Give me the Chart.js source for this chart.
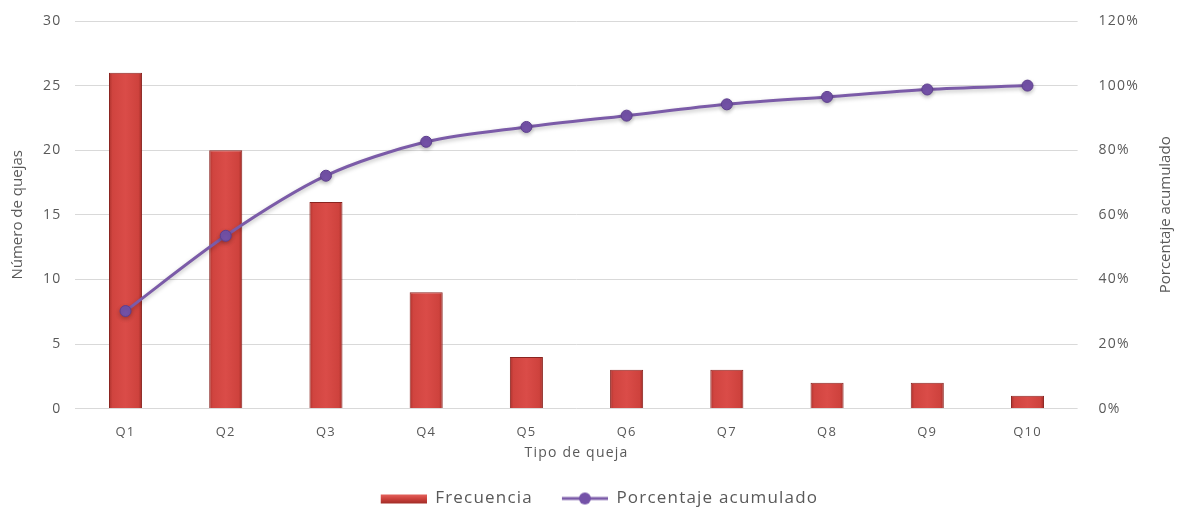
<!DOCTYPE html>
<html>
<head>
<meta charset="utf-8">
<script src="https://cdn.jsdelivr.net/npm/chart.js"></script>
<style>
  html, body { margin: 0; padding: 0; background: #fff; }
  #wrap { width: 1178px; height: 508px; }
</style>
</head>
<body>
<div id="wrap"><canvas id="myCanvas" width="1178" height="508"></canvas></div>
<script>
var tipos = ['Q1', 'Q2', 'Q3', 'Q4', 'Q5', 'Q6', 'Q7', 'Q8', 'Q9', 'Q10'];
var frecuencia = [26, 20, 16, 9, 4, 3, 3, 2, 2, 1];
var acumulado = [30.2, 53.5, 72.1, 82.6, 87.2, 90.7, 94.2, 96.5, 98.8, 100];

var gris = '#595959';
var fuente = "'Open Sans', 'Liberation Sans', sans-serif";
var espaciado = '1.2px';

// red bar with slightly darker edges, like a rounded cylinder
function rellenoBarra(ctx) {
  var chart = ctx.chart;
  var x = chart.scales.x;
  if (!x || ctx.dataIndex === undefined) return '#d64541';
  var cx = x.getPixelForValue(ctx.dataIndex);
  var w = 17;
  var g = chart.ctx.createLinearGradient(cx - w, 0, cx + w, 0);
  g.addColorStop(0, '#a8302b');
  g.addColorStop(0.12, '#d0443f');
  g.addColorStop(0.5, '#da4c48');
  g.addColorStop(0.88, '#ce423d');
  g.addColorStop(1, '#9c2a25');
  return g;
}

// legend icons, both 64 wide; the drawn part sits on the right
function iconoBarra() {
  var c = document.createElement('canvas');
  c.width = 64; c.height = 14;
  var k = c.getContext('2d');
  var g = k.createLinearGradient(0, 2, 0, 12);
  g.addColorStop(0, '#e86a64');
  g.addColorStop(0.5, '#d0433e');
  g.addColorStop(1, '#a02c27');
  k.fillStyle = g;
  k.fillRect(18, 3, 46, 9);
  return c;
}
function iconoLinea() {
  var c = document.createElement('canvas');
  c.width = 64; c.height = 14;
  var k = c.getContext('2d');
  k.strokeStyle = '#7b5ba8';
  k.lineWidth = 3;
  k.beginPath(); k.moveTo(18, 7); k.lineTo(64, 7); k.stroke();
  k.fillStyle = '#7452a8';
  k.beginPath(); k.arc(41, 7, 6, 0, Math.PI * 2); k.fill();
  return c;
}

// wide lettering for the horizontal texts
var letras = {
  id: 'letras',
  beforeLayout: function (chart) { chart.ctx.letterSpacing = espaciado; },
  beforeDraw: function (chart) { chart.ctx.letterSpacing = espaciado; }
};

var sombraLinea = {
  id: 'sombraLinea',
  beforeDatasetDraw: function (chart, args) {
    if (args.index === 0) {
      chart.ctx.save();
      chart.ctx.shadowColor = 'rgba(0,0,0,0.25)';
      chart.ctx.shadowBlur = 4;
      chart.ctx.shadowOffsetY = 2;
    }
  },
  afterDatasetDraw: function (chart, args) {
    if (args.index === 0) chart.ctx.restore();
  }
};

// both axis titles, read bottom to top
function tituloVertical(c, texto, x, y) {
  c.save();
  c.letterSpacing = '0px';
  c.translate(x, y);
  c.rotate(-Math.PI / 2);
  c.fillStyle = gris;
  c.font = "15px " + fuente;
  c.textAlign = 'center';
  c.textBaseline = 'middle';
  c.fillText(texto, 0, 0);
  c.restore();
}
var titulosEjes = {
  id: 'titulosEjes',
  afterDraw: function (chart) {
    var a = chart.chartArea;
    var yc = (a.top + a.bottom) / 2;
    tituloVertical(chart.ctx, 'Número de quejas', 18, yc);
    tituloVertical(chart.ctx, 'Porcentaje acumulado', 1166, yc);
  }
};

var iconos = [iconoBarra(), iconoLinea()];

var ctx = document.getElementById('myCanvas');
var grafico = new Chart(ctx, {
  type: 'bar',
  data: {
    labels: tipos,
    datasets: [
      {
        type: 'line',
        label: 'Porcentaje acumulado',
        data: acumulado,
        yAxisID: 'y1',
        borderColor: '#7b5ba8',
        borderWidth: 3,
        pointRadius: 5.5,
        pointBackgroundColor: '#7452a8',
        pointBorderColor: '#5e3f8f',
        pointBorderWidth: 1,
        tension: 0.3,
        order: 0
      },
      {
        label: 'Frecuencia',
        data: frecuencia,
        yAxisID: 'y',
        backgroundColor: rellenoBarra,
        borderColor: '#8a2420',
        borderWidth: 1,
        barPercentage: 0.33,
        categoryPercentage: 1,
        order: 1
      }
    ]
  },
  plugins: [letras, sombraLinea, titulosEjes],
  options: {
    responsive: false,
    animation: false,
    layout: { padding: { left: 29, right: 26, top: 21, bottom: -9 } },
    scales: {
      x: {
        grid: { display: false },
        border: { display: false },
        ticks: { color: gris, font: { family: fuente, size: 13 }, padding: 8 },
        title: { display: true, text: 'Tipo de queja', color: gris, font: { family: fuente, size: 14 }, padding: { top: -4, bottom: 18 } }
      },
      y: {
        position: 'left',
        min: 0, max: 30,
        ticks: { stepSize: 5, color: gris, font: { family: fuente, size: 14, lineHeight: 0.5 }, padding: 14 },
        grid: { color: '#d9d9d9', drawTicks: false },
        border: { display: false },
        title: { display: false }
      },
      y1: {
        position: 'right',
        min: 0, max: 120,
        ticks: {
          stepSize: 20, color: gris, font: { family: fuente, size: 14, lineHeight: 0.5 }, padding: 13,
          callback: function (v) { return v + '%'; }
        },
        grid: { display: false },
        border: { display: false },
        title: { display: false }
      }
    },
    plugins: {
      legend: {
        position: 'bottom',
        labels: {
          usePointStyle: true,
          pointStyleWidth: 64,
          color: gris,
          font: { family: fuente, size: 17 },
          padding: 11,
          generateLabels: function (chart) {
            return [
              { text: 'Frecuencia', pointStyle: iconos[0], fontColor: gris, datasetIndex: 1, lineWidth: 0 },
              { text: 'Porcentaje acumulado', pointStyle: iconos[1], fontColor: gris, datasetIndex: 0, lineWidth: 0 }
            ];
          }
        }
      },
      tooltip: { enabled: false }
    }
  }
});
</script>
</body>
</html>
